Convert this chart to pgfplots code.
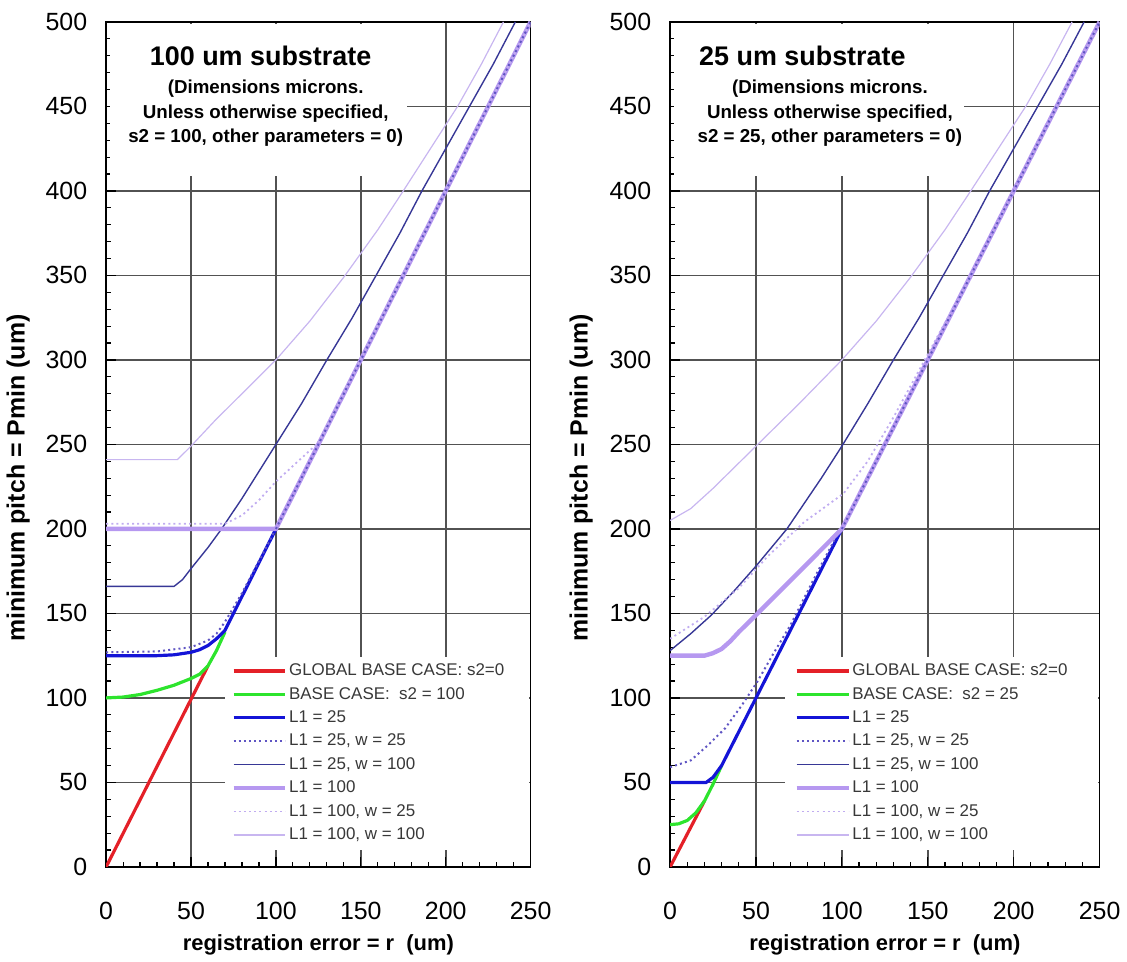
\documentclass[border=0pt]{standalone}
\usepackage{fontspec}
\setmainfont{Liberation Sans}
\usepackage{pgfplots}
\pgfplotsset{compat=1.18}

\definecolor{cred}{RGB}{228,32,40}
\definecolor{cgreen}{RGB}{45,228,45}
\definecolor{cblue}{RGB}{20,20,215}
\definecolor{cbluedot}{RGB}{95,85,195}
\definecolor{cnavy}{RGB}{55,55,150}
\definecolor{clav}{RGB}{182,152,240}
\definecolor{clavdot}{RGB}{192,172,240}
\definecolor{clavthin}{RGB}{200,182,240}

\pgfplotsset{
  pitchaxis/.style={
    scale only axis, width=213pt, height=424pt,
    xmin=0, xmax=250, ymin=0, ymax=500,
    xtick={0,50,...,250}, ytick={0,50,...,500},
    minor x tick num=4, minor y tick num=4,
    grid=major, major grid style={black!68, line width=0.8pt},
    axis line style={black, line width=0.8pt},
    tick align=inside, xtick pos=left, ytick pos=left,
    major tick length=5pt, minor tick length=2.5pt,
    tick style={black, line width=0.6pt},
    tick label style={font=\fontsize{12.5}{14}\selectfont},
    /pgf/number format/assume math mode=true,
    xticklabel style={yshift=-14pt},
    yticklabel style={xshift=-6pt},
    xlabel={registration error = r\ \ (um)},
    ylabel={minimum pitch = Pmin (um)},
    label style={font=\bfseries\fontsize{11}{13}\selectfont},
    xlabel style={at={(axis description cs:0.5,-0.092)}, anchor=center},
    ylabel style={at={(axis description cs:-0.207,0.46)}, anchor=center,
      font=\bfseries\fontsize{12.5}{14}\selectfont},
    legend cell align=left,
    legend image code/.code={\draw[##1] (0pt,0pt) -- (26pt,0pt);},
    legend style={draw=none, fill=none, inner sep=0pt, row sep=1.85pt,
      font=\fontsize{8.5}{10}\selectfont, text=black!78, anchor=north west,
      nodes={inner sep=0.8pt, text height=6.5pt, text depth=1.8pt}},
  },
  sred/.style={cred, line width=1.6pt},
  sgreen/.style={cgreen, line width=1.6pt},
  sblue/.style={cblue, line width=1.6pt},
  sbluedot/.style={cbluedot, line width=1pt, dash pattern=on 1pt off 1.6pt},
  snavy/.style={cnavy, line width=0.7pt},
  slav/.style={clav, line width=2.2pt},
  slavdot/.style={clavdot, line width=0.9pt, dash pattern=on 1pt off 1.6pt},
  slavthin/.style={clavthin, line width=0.6pt},
}

\begin{document}
\begin{tikzpicture}
\path (0pt,0pt) rectangle (563.5pt,482.5pt);

% ---------------- 100 um substrate ----------------
\begin{axis}[pitchaxis, at={(53pt,47.5pt)}, anchor=south west,
  legend style={at={(axis cs:73.5,122)}}]
\fill[white] (axis cs:2,409) rectangle (axis cs:177,498.8);
\fill[white] (axis cs:70,10) rectangle (axis cs:249.2,124);
\addplot[sred] coordinates {(0,0) (60,119)};
\addplot[sgreen] coordinates {(0,100) (10,100.5) (20,102) (30,104.5) (40,107.5) (50,111.5) (55,114) (60,119) (65,128) (70,139)};
\addplot[sblue] coordinates {(0,125) (30,125) (40,125.5) (50,127) (55,128.5) (60,131) (65,135) (70,140) (100,200)};
\addplot[sbluedot] coordinates {(0,127) (30,127.5) (50,130) (60,134) (65,138) (70,145) (80,162) (90,181) (100,200)};
\addplot[snavy] coordinates {(0,166) (40,166) (45,170) (50,176.5) (60,189) (68,200) (80,218) (100,250) (115,274) (130,300) (145,325) (159,350) (173,375) (186,400) (200,425) (214,450) (228,475) (241,500)};
\addplot[slav] coordinates {(0,200) (100,200) (250,500)};
\addplot[slavdot] coordinates {(0,203) (70,203) (80,208) (90,217) (100,228) (113,240) (125,251) (250,500)};
\addplot[slavthin] coordinates {(0,241) (42,241) (50,249) (64,264) (80,280) (100,300) (120,323) (140,349) (160,377) (175,400) (191,425) (207,450) (221,475) (234,500)};
\addplot[sbluedot, forget plot] coordinates {(100,200) (250,500)};
\legend{GLOBAL BASE CASE: s2=0, BASE CASE:\ \ s2 = 100, L1 = 25, {L1 = 25, w = 25}, {L1 = 25, w = 100}, L1 = 100, {L1 = 100, w = 25}, {L1 = 100, w = 100}}
\node[font=\bfseries\fontsize{13.5}{16}\selectfont] at (axis cs:91,480) {100 um substrate};
\node[font=\bfseries\fontsize{9.4}{12.5}\selectfont, align=center] at (axis cs:94,446) {(Dimensions microns.\\Unless otherwise specified,\\s2 = 100, other parameters = 0)};
\end{axis}

% ---------------- 25 um substrate ----------------
\begin{axis}[pitchaxis, width=215.5pt, at={(336pt,47.5pt)}, anchor=south west,
  legend style={at={(axis cs:72.2,122)}}]
\fill[white] (axis cs:2,409) rectangle (axis cs:171,498.8);
\fill[white] (axis cs:67,10) rectangle (axis cs:249.2,124);
\addplot[sred] coordinates {(0,0) (20,39)};
\addplot[sgreen] coordinates {(0,25) (5,25.5) (10,27.5) (15,32) (20,39) (25,49) (30,60)};
\addplot[sblue] coordinates {(0,50) (21,50) (25,53) (30,60) (100,200)};
\addplot[sbluedot] coordinates {(0,59) (12,63) (22,72) (32,82) (42,96) (51,110) (60,126) (70,143) (85,173) (97,196) (100,200)};
\addplot[snavy] coordinates {(0,128) (12,138) (24,149) (37,163) (50,178) (68,200) (88,230) (100,249) (115,274) (130,300) (145,325) (159,350) (173,375) (186,400) (200,425) (214,450) (228,475) (241,500)};
\addplot[slav] coordinates {(0,125) (20,125) (25,126.5) (30,129) (35,133.5) (40,139) (50,149) (75,174.5) (100,200) (250,500)};
\addplot[slavdot] coordinates {(0,135) (20,148) (40,165) (57,184) (78,204) (101,221) (115,240) (130,266) (145,294) (160,322) (170,340) (250,500)};
\addplot[slavthin] coordinates {(0,205) (12,212) (25,224) (50,249) (75,274) (100,300) (120,323) (140,349) (160,377) (175,400) (191,425) (207,450) (221,475) (234,500)};
\addplot[sbluedot, forget plot] coordinates {(100,200) (250,500)};
\legend{GLOBAL BASE CASE: s2=0, BASE CASE:\ \ s2 = 25, L1 = 25, {L1 = 25, w = 25}, {L1 = 25, w = 100}, L1 = 100, {L1 = 100, w = 25}, {L1 = 100, w = 100}}
\node[font=\bfseries\fontsize{13.5}{16}\selectfont] at (axis cs:77,480) {25 um substrate};
\node[font=\bfseries\fontsize{9.4}{12.5}\selectfont, align=center] at (axis cs:93,446) {(Dimensions microns.\\Unless otherwise specified,\\s2 = 25, other parameters = 0)};
\end{axis}
\end{tikzpicture}
\end{document}
